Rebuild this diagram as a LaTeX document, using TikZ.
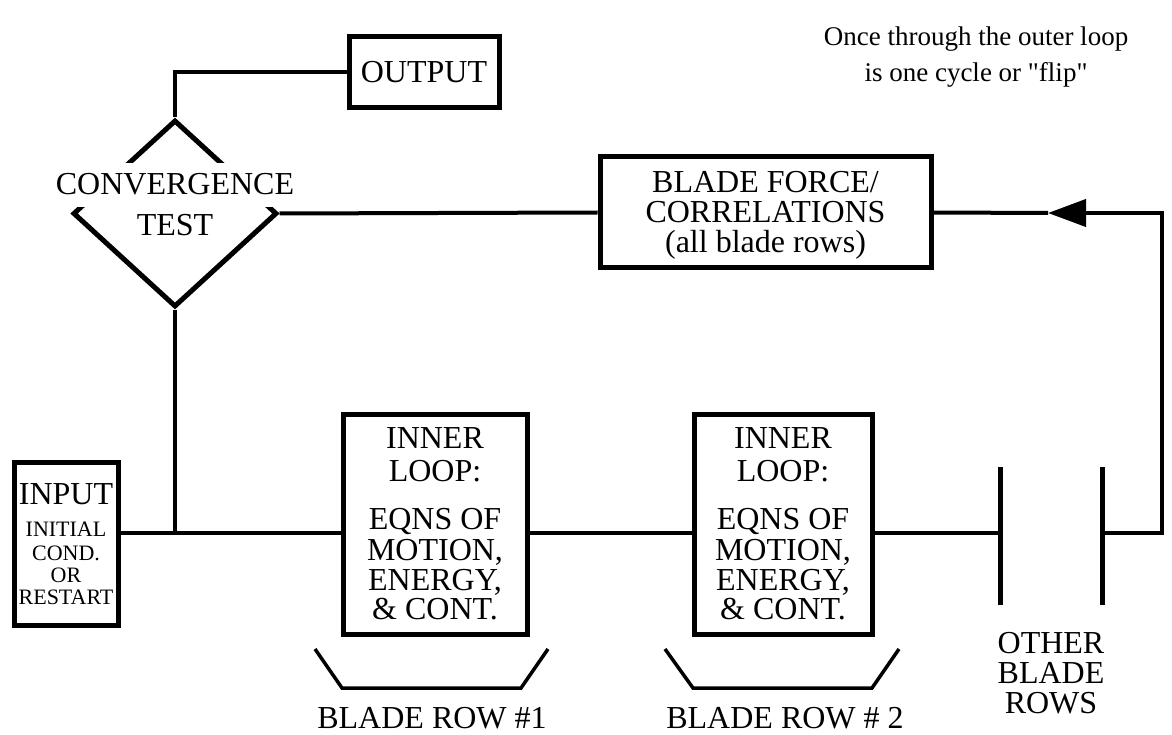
\documentclass[tikz,border=0pt]{standalone}
\usepackage{fontspec}
\setmainfont{Liberation Serif}
\newfontfamily\notefont{Liberation Serif}[Ligatures=TeXOff]
\usetikzlibrary{arrows.meta,shapes.geometric}
\begin{document}
\begin{tikzpicture}[x=1pt,y=-1pt,
  boxst/.style={draw, line width=5pt, inner sep=0pt, rectangle},
  conn/.style={line width=4pt},
  barst/.style={line width=5pt},
  brk/.style={line width=3.5pt, line join=miter},
  lbl/.style={anchor=base, inner sep=0pt, font=\fontsize{32}{32}\selectfont},
  small/.style={anchor=base, inner sep=0pt, font=\fontsize{22}{22}\selectfont},
  note/.style={anchor=base, inner sep=0pt, font=\notefont\fontsize{27}{27}\selectfont}]
\useasboundingbox (0,0) rectangle (1172,735);

% boxes
\node[boxst, minimum width=104pt, minimum height=163pt] (input) at (66,543.5) {};
\node[boxst, minimum width=150pt, minimum height=71pt] (output) at (424,72) {};
\node[boxst, minimum width=331pt, minimum height=111pt] (blade) at (765.5,212.5) {};
\node[boxst, minimum width=184pt, minimum height=220pt] (box1) at (435,524) {};
\node[boxst, minimum width=178pt, minimum height=220pt] (box2) at (783,524) {};
\node[draw, diamond, line width=5pt, minimum width=204pt, minimum height=187pt, inner sep=0pt] (conv) at (175,213.5) {};

% coordinates
\coordinate (jn) at (175,533);
\coordinate (b1t) at (1000,467);
\coordinate (b1b) at (1000,605);
\coordinate (b1m) at (1000,533);
\coordinate (b2t) at (1102,467);
\coordinate (b2b) at (1102,605);
\coordinate (b2m) at (1102,533);
\coordinate (rc) at (1162,213);
\coordinate (tip) at (1048,213);

% connectors
\draw[conn, line join=miter] (conv.north) |- (output.west);
\draw[conn] (conv.east) -- (blade.west);
\draw[conn] (blade.east) -- (tip);
\draw[conn, line join=miter, -{Triangle[length=38pt,width=27pt]}] (b2m) -| (rc) -- (tip);
\draw[conn] (conv.south) -- (jn);
\draw[conn] (input.east |- jn) -- (box1.west |- jn);
\draw[conn] (box1.east |- jn) -- (box2.west |- jn);
\draw[conn] (box2.east |- jn) -- (b1m);
\draw[barst] (b1t) -- (b1b);
\draw[barst] (b2t) -- (b2b);

% brackets
\draw[brk] (315,649) -- (342,688) -- (521,688) -- (548,649);
\draw[brk] (665,649) -- (693,688) -- (872,688) -- (899,649);

% texts
\node[lbl] (tout) at (424,83) {OUTPUT};
\node[lbl, fill=white, inner xsep=3pt, text height=32pt, text depth=12pt] (tconv) at (175,195) {CONVERGENCE};
\node[lbl] (ttest) at (175,236) {TEST};
\node[lbl] (tb1) at (765.5,193) {BLADE FORCE/};
\node[lbl] (tb2) at (765.5,223) {CORRELATIONS};
\node[lbl] (tb3) at (765.5,253) {(all blade rows)};
\node[lbl] (tin) at (66,504) {INPUT};
\node[small] (ti1) at (66,536) {INITIAL};
\node[small] (ti2) at (66,560) {COND.};
\node[small] (ti3) at (66,582) {OR};
\node[small] (ti4) at (66,604) {RESTART};
\foreach \n/\x in {a/435, b/783} {
  \node[lbl] (inner\n) at (\x,448) {INNER};
  \node[lbl] (loop\n) at (\x,481) {LOOP:};
  \node[lbl] (eqns\n) at (\x,529) {EQNS OF};
  \node[lbl] (mot\n) at (\x,560) {MOTION,};
  \node[lbl] (en\n) at (\x,590) {ENERGY,};
  \node[lbl] (cont\n) at (\x,619) {\& CONT.};
}
\node[lbl] (br1) at (432,728) {BLADE ROW \#1};
\node[lbl] (br2) at (785,728) {BLADE ROW \# 2};
\node[lbl] (ob1) at (1051,653) {OTHER};
\node[lbl] (ob2) at (1051,683) {BLADE};
\node[lbl] (ob3) at (1051,713) {ROWS};
\node[note] (n1) at (976,46) {Once through the outer loop};
\node[note] (n2) at (976,82) {is one cycle or "flip"};
\end{tikzpicture}
\end{document}
